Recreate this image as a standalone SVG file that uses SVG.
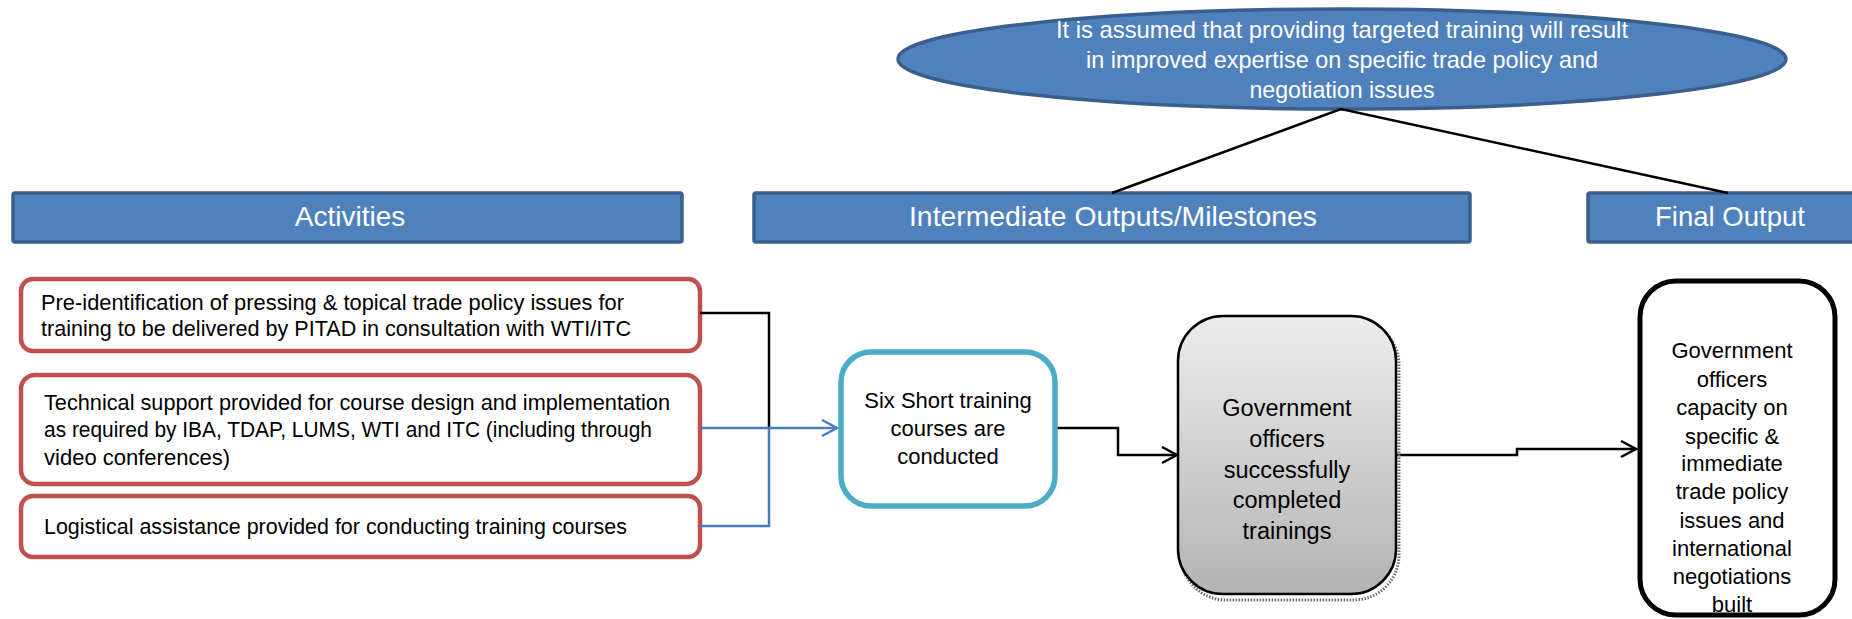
<svg xmlns="http://www.w3.org/2000/svg" width="1852" height="619" viewBox="0 0 1852 619">
  <style>
    text { font-family: "Liberation Sans", Arial, sans-serif; }
    .hdr rect, .hdr ellipse { fill: #4F81BD; stroke: #3A5F8C; stroke-width: 3.5; }
    .hdr text { fill: #FFFFFF; font-size: 28px; text-anchor: middle; }
    .act rect { fill: #FFFFFF; stroke: #C0504D; stroke-width: 4.5; }
    .act text { fill: #000000; font-size: 22px; }
    .mid text { fill: #000000; font-size: 22px; text-anchor: middle; }
    .conn { fill: none; stroke-width: 2.5; }
    .blk { stroke: #000000; }
    .blu { stroke: #4A7EBB; }
  </style>
  <defs>
    <linearGradient id="greyFill" x1="0" y1="0" x2="0" y2="1">
      <stop offset="0" stop-color="#EDEDED"/>
      <stop offset="1" stop-color="#B3B3B3"/>
    </linearGradient>
    <marker id="arrBlk" markerUnits="userSpaceOnUse" markerWidth="20" markerHeight="22" refX="16" refY="9" orient="auto">
      <path d="M1,1 L16,9 L1,17" fill="none" stroke="#000000" stroke-width="2.5"/>
    </marker>
    <marker id="arrBlu" markerUnits="userSpaceOnUse" markerWidth="20" markerHeight="22" refX="16" refY="9" orient="auto">
      <path d="M1,1 L16,9 L1,17" fill="none" stroke="#4A7EBB" stroke-width="2.5"/>
    </marker>
  </defs>

  <!-- assumption bubble -->
  <g id="assumption" class="hdr">
    <ellipse cx="1342" cy="59" rx="444" ry="50"/>
    <text x="1342" y="38" style="font-size:24px" textLength="572" lengthAdjust="spacingAndGlyphs">It is assumed that providing targeted training will result</text>
    <text x="1342" y="68" style="font-size:24px" textLength="512" lengthAdjust="spacingAndGlyphs">in improved expertise on specific trade policy and</text>
    <text x="1342" y="98" style="font-size:24px" textLength="185" lengthAdjust="spacingAndGlyphs">negotiation issues</text>
  </g>

  <!-- column headers -->
  <g id="hdr-activities" class="hdr">
    <rect x="13" y="193" width="669" height="49" rx="2"/>
    <text x="350" y="226">Activities</text>
  </g>
  <g id="hdr-intermediate" class="hdr">
    <rect x="754" y="193" width="716" height="49" rx="2"/>
    <text x="1113" y="226" textLength="408" lengthAdjust="spacingAndGlyphs">Intermediate Outputs/Milestones</text>
  </g>
  <g id="hdr-final" class="hdr">
    <rect x="1588" y="193" width="290" height="49" rx="2"/>
    <text x="1730" y="226" textLength="150" lengthAdjust="spacingAndGlyphs">Final Output</text>
  </g>

  <!-- activities -->
  <g id="act-1" class="act">
    <rect x="21" y="279" width="679" height="72" rx="12"/>
    <text x="41" y="310" textLength="583" lengthAdjust="spacingAndGlyphs">Pre-identification of pressing &amp; topical trade policy issues  for</text>
    <text x="41" y="336" textLength="590" lengthAdjust="spacingAndGlyphs">training to be delivered by PITAD in  consultation with WTI/ITC</text>
  </g>
  <g id="act-2" class="act">
    <rect x="21" y="375" width="679" height="109" rx="14"/>
    <text x="44" y="410" textLength="626" lengthAdjust="spacingAndGlyphs">Technical support provided for course design and implementation</text>
    <text x="44" y="437" textLength="608" lengthAdjust="spacingAndGlyphs">as required by IBA, TDAP, LUMS, WTI and ITC (including through</text>
    <text x="44" y="465" textLength="186" lengthAdjust="spacingAndGlyphs">video conferences)</text>
  </g>
  <g id="act-3" class="act">
    <rect x="21" y="496" width="679" height="61" rx="12"/>
    <text x="44" y="534" textLength="583" lengthAdjust="spacingAndGlyphs">Logistical  assistance provided for conducting training courses</text>
  </g>

  <!-- connectors -->
  <g id="connectors">
    <path class="conn blk" d="M700,313 H769 V428"/>
    <path class="conn blu" d="M700,428 H837" marker-end="url(#arrBlu)"/>
    <path class="conn blu" d="M700,526 H769 V428"/>
    <path class="conn blk" d="M1057,428 H1118 V455 H1177" marker-end="url(#arrBlk)"/>
    <path class="conn blk" d="M1397,455 H1517 V449 H1636" marker-end="url(#arrBlk)"/>
    <path class="conn blk" d="M1112,193 L1341,109 L1728,193"/>
  </g>

  <!-- intermediate outputs -->
  <g id="six-courses" class="mid">
    <rect x="841" y="352" width="214" height="154" rx="30" fill="#FFFFFF" stroke="#4BACC6" stroke-width="5.5"/>
    <text x="948" y="408">Six Short training</text>
    <text x="948" y="436">courses are</text>
    <text x="948" y="464">conducted</text>
  </g>
  <g id="officers-trained" class="mid">
    <rect x="1181" y="320" width="218" height="280" rx="45" fill="none" stroke="#6E6E6E" stroke-width="3" stroke-dasharray="1.5 1.5"/>
    <rect x="1178" y="316" width="218" height="278" rx="45" fill="url(#greyFill)" stroke="#000000" stroke-width="2.5"/>
    <text x="1287" y="416" style="font-size:23.5px">Government</text>
    <text x="1287" y="447" style="font-size:23.5px">officers</text>
    <text x="1287" y="478" style="font-size:23.5px">successfully</text>
    <text x="1287" y="508" style="font-size:23.5px">completed</text>
    <text x="1287" y="539" style="font-size:23.5px">trainings</text>
  </g>

  <!-- final output -->
  <g id="final-output" class="mid">
    <rect x="1640" y="281" width="195" height="334" rx="36" fill="#FFFFFF" stroke="#000000" stroke-width="5"/>
    <text x="1732" y="358">Government</text>
    <text x="1732" y="387">officers</text>
    <text x="1732" y="415">capacity on</text>
    <text x="1732" y="444">specific &amp;</text>
    <text x="1732" y="471">immediate</text>
    <text x="1732" y="499">trade policy</text>
    <text x="1732" y="528">issues and</text>
    <text x="1732" y="556">international</text>
    <text x="1732" y="584">negotiations</text>
    <text x="1732" y="612">built</text>
  </g>
</svg>
